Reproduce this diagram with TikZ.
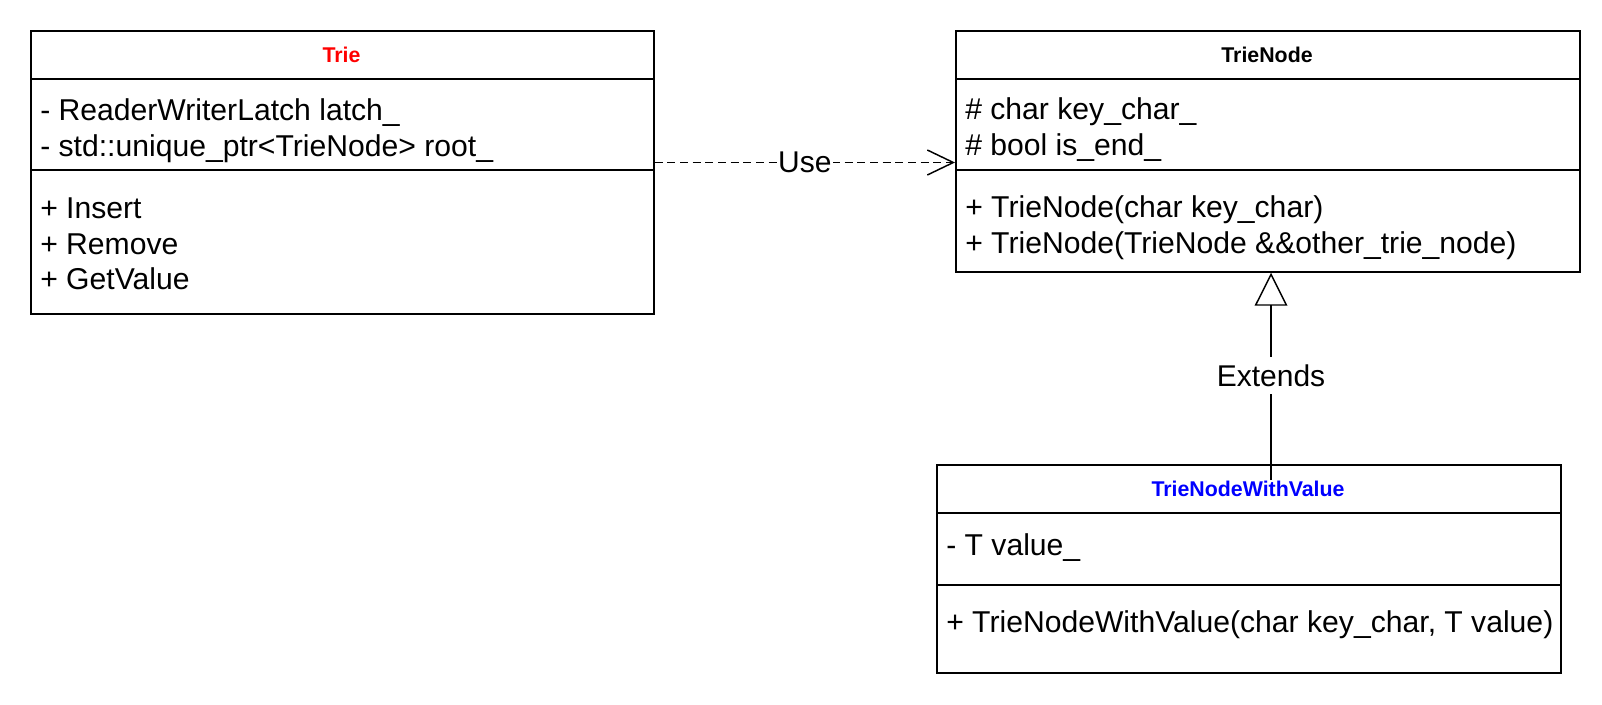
\documentclass[tikz,border=0pt]{standalone}
\usepackage{fontspec}
\setmainfont{Liberation Sans}
\usetikzlibrary{arrows.meta}
\definecolor{titlered}{RGB}{255,0,0}
\definecolor{titleblue}{RGB}{0,0,255}
\tikzset{
  umlbox/.style={draw, rectangle, line width=1.3pt, anchor=north west, inner sep=0pt},
  sepline/.style={line width=1.3pt},
  member/.style={anchor=base west, inner sep=0pt, font=\fontsize{22.6pt}{27pt}\selectfont},
  classtitle/.style={anchor=base, inner sep=0pt, font=\fontsize{16pt}{19pt}\selectfont\bfseries},
  edgelabel/.style={fill=white, inner xsep=1pt, inner ysep=5.5pt, font=\fontsize{22.5pt}{27pt}\selectfont},
  usearrow/.style={line width=1.1pt, dash pattern=on 6pt off 3.5pt, -{Straight Barb[length=19.5pt,width=18.75pt,line width=1.1pt]}},
  extarrow/.style={line width=1.1pt, -{Triangle[open,length=24.75pt,width=24.5pt,line width=1.1pt]}}
}
\begin{document}
\begin{tikzpicture}[x=0.75pt,y=-0.75pt]
\useasboundingbox (0,0) rectangle (1602,704);

% Trie
\node[umlbox, minimum width=467.25pt, minimum height=212.25pt] (trie) at (30,30) {};
\draw[sepline] (trie.west |- 0,79) -- (trie.east |- 0,79);
\draw[sepline] (trie.west |- 0,170) -- (trie.east |- 0,170);
\node[classtitle, text=titlered] (trieT) at (341.5,62) {Trie};
\node[member] (trieA1) at (40,120) {- ReaderWriterLatch latch\_};
\node[member] (trieA2) at (40,156) {- std::unique\_ptr<TrieNode> root\_};
\node[member] (trieM1) at (40,218) {+ Insert};
\node[member] (trieM2) at (40,254) {+ Remove};
\node[member] (trieM3) at (40,289.5) {+ GetValue};

% TrieNode
\node[umlbox, minimum width=468pt, minimum height=180.75pt] (tn) at (955,30) {};
\draw[sepline] (tn.west |- 0,79) -- (tn.east |- 0,79);
\draw[sepline] (tn.west |- 0,170) -- (tn.east |- 0,170);
\node[classtitle] (tnT) at (1267,62) {TrieNode};
\node[member] (tnA1) at (965,119.5) {\# char key\_char\_};
\node[member] (tnA2) at (965,155) {\# bool is\_end\_};
\node[member] (tnM1) at (965,217.5) {+ TrieNode(char key\_char)};
\node[member] (tnM2) at (965,253.5) {+ TrieNode(TrieNode \&\&other\_trie\_node)};

% TrieNodeWithValue
\node[umlbox, minimum width=468pt, minimum height=156pt] (tnv) at (936,464) {};
\draw[sepline] (tnv.west |- 0,513) -- (tnv.east |- 0,513);
\draw[sepline] (tnv.west |- 0,585) -- (tnv.east |- 0,585);
\node[classtitle, text=titleblue] (tnvT) at (1248,496) {TrieNodeWithValue};
\node[member] (tnvA1) at (946,555.5) {- T value\_};
\node[member] (tnvM1) at (946,632.5) {+ TrieNodeWithValue(char key\_char, T value)};

% Use
\draw[usearrow] (trie.east |- 0,162.5) -- (tn.west |- 0,162.5)
  node[edgelabel, midway] (useL) {Use};

% Extends
\coordinate (extStart) at (1271,480);
\draw[extarrow] (extStart) -- (tn.south -| extStart)
  node[edgelabel, pos=0.505] (extL) {Extends};
\end{tikzpicture}
\end{document}
